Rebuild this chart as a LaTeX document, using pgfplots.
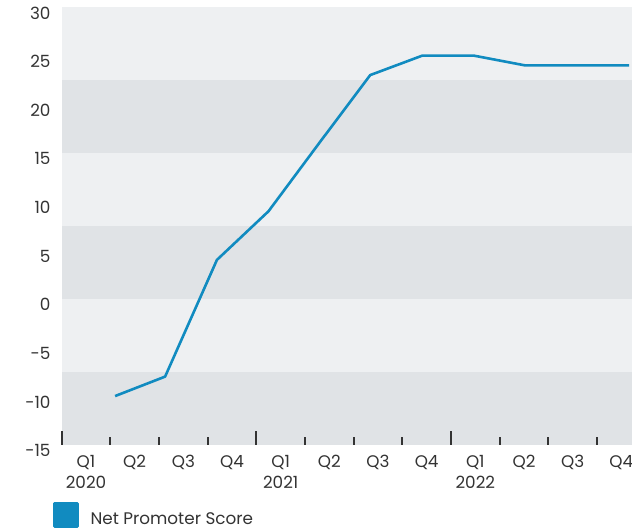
\documentclass[border=0pt]{standalone}
\usepackage{pgfplots}
\pgfplotsset{compat=1.18}
\usepackage{fontspec}
\setmainfont{Poppins}
\definecolor{nps}{HTML}{118BC0}
\definecolor{bandA}{HTML}{EEF0F2}
\definecolor{bandB}{HTML}{E0E3E6}
\definecolor{txt}{HTML}{333333}
\begin{document}
\begin{tikzpicture}[x=1pt,y=1pt]
\useasboundingbox (0,0) rectangle (632,530);
\begin{axis}[
  at={(61.7pt,85.3pt)}, anchor=south west,
  scale only axis, width=570.3pt, height=437.7pt,
  xmin=0, xmax=11.72, ymin=-15, ymax=30,
  axis line style={draw=none},
  axis on top,
  clip=true,
  /pgf/number format/assume math mode=true,
  ytick={-15,-10,...,30},
  y tick style={draw=none},
  yticklabel style={font=\fontsize{16.8}{20}\selectfont, text=txt, anchor=east, inner sep=0pt, xshift=-11pt, yshift=-6pt},
  xtick={0,4,8},
  xticklabels={{},{},{}},
  minor xtick={1,2,3,5,6,7,9,10,11},
  tick align=inside,
  xtick pos=bottom,
  major tick length=14pt,
  minor tick length=8pt,
  x tick style={line width=1.8pt, color=txt},
  extra x ticks={0.5,1.5,2.5,3.5,4.5,5.5,6.5,7.5,8.5,9.5,10.5,11.5},
  extra x tick labels={{Q1\\2020},Q2,Q3,Q4,{Q1\\2021},Q2,Q3,Q4,{Q1\\2022},Q2,Q3,Q4},
  extra x tick style={major tick length=0pt, x tick style={draw=none},
    xticklabel style={font=\fontsize{16.8}{20.5}\selectfont, text=txt, align=center, anchor=north, inner sep=0pt, yshift=-10.5pt}},
  legend style={at={(axis description cs:-0.01525,-0.1316)}, anchor=north west,
    draw=none, fill=none, inner sep=0pt, outer sep=0pt,
    font=\fontsize{16.8}{20}\selectfont, text=txt,
    nodes={inner sep=0pt},
    /tikz/every odd column/.append style={column sep=11.7pt}},
  legend cell align=left,
  legend image code/.code={\fill[nps] (0pt,0pt) rectangle (23.3pt,22.7pt);},
]
\fill[bandA] (axis cs:0,22.5) rectangle (axis cs:11.72,30);
\fill[bandB] (axis cs:0,15) rectangle (axis cs:11.72,22.5);
\fill[bandA] (axis cs:0,7.5) rectangle (axis cs:11.72,15);
\fill[bandB] (axis cs:0,0) rectangle (axis cs:11.72,7.5);
\fill[bandA] (axis cs:0,-7.5) rectangle (axis cs:11.72,0);
\fill[bandB] (axis cs:0,-15) rectangle (axis cs:11.72,-7.5);
\addplot[nps, line width=2.6pt, line join=round] coordinates {
  (1.097,-10) (2.125,-8) (3.19,4) (4.25,9) (5.29,16) (6.34,23)
  (7.41,25) (8.47,25) (9.52,24) (10.58,24) (11.66,24)
};
\addlegendentry{\raisebox{13pt}{Net Promoter Score}}
\end{axis}
\end{tikzpicture}
\end{document}
